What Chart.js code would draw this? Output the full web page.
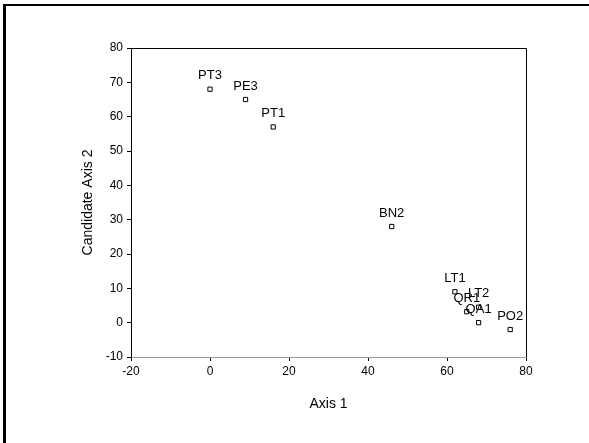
<!DOCTYPE html>
<html>
<head>
<meta charset="utf-8">
<script src="https://cdn.jsdelivr.net/npm/chart.js@4/dist/chart.umd.min.js"></script>
<style>
  html, body { margin: 0; padding: 0; background: #fff; }
  #wrap { position: relative; width: 589px; height: 443px; }
</style>
</head>
<body>
<div id="wrap"><canvas id="chart"></canvas></div>
<script>
// point names and coordinates
const names = ['PT3', 'PE3', 'PT1', 'BN2', 'LT1', 'LT2', 'QR1', 'QA1', 'PO2'];
const axis1 = [0, 9, 16, 46, 62, 68, 65, 68, 76];
const axis2 = [68, 65, 57, 28, 9, 4.5, 3.2, 0, -2];

const xTicks = [-20, 0, 20, 40, 60, 80];
const yTicks = [-10, 0, 10, 20, 30, 40, 50, 60, 70, 80];

const FONT = 'Liberation Sans, Arial, sans-serif';

// labels above each marker
const pointLabels = {
  id: 'pointLabels',
  afterDatasetsDraw(chart) {
    const ctx = chart.ctx;
    const meta = chart.getDatasetMeta(0);
    ctx.save();
    ctx.font = '13px ' + FONT;
    ctx.fillStyle = '#000';
    ctx.textAlign = 'center';
    ctx.textBaseline = 'alphabetic';
    meta.data.forEach((pt, i) => {
      ctx.fillText(names[i], pt.x, pt.y - 10);
    });
    ctx.restore();
  }
};

// plot frame and the outer page border
const frame = {
  id: 'frame',
  beforeDraw(chart) {
    const ctx = chart.ctx;
    ctx.save();
    ctx.fillStyle = '#000';
    ctx.fillRect(3, 4, 586, 2);
    ctx.fillRect(3, 4, 3, 439);
    ctx.restore();
  },
  afterDraw(chart) {
    const {left, top, right, bottom} = chart.chartArea;
    const ctx = chart.ctx;
    ctx.save();
    ctx.strokeStyle = '#000';
    ctx.lineWidth = 1;
    ctx.beginPath();
    ctx.moveTo(left + 0.5, bottom);
    ctx.lineTo(left + 0.5, top + 0.5);
    ctx.lineTo(right + 0.5, top + 0.5);
    ctx.lineTo(right + 0.5, bottom);
    ctx.stroke();
    ctx.restore();
  }
};

const points = axis1.map((x, i) => ({ x: x, y: axis2[i] }));

new Chart(document.getElementById('chart'), {
  type: 'scatter',
  data: {
    datasets: [{
      data: points,
      pointStyle: 'rect',
      pointRadius: 3,
      pointHoverRadius: 3,
      backgroundColor: '#fff',
      borderColor: '#000',
      borderWidth: 1
    }]
  },
  options: {
    responsive: true,
    maintainAspectRatio: false,
    animation: false,
    layout: { padding: { left: 70, top: 48, right: 63, bottom: 20 } },
    plugins: { legend: { display: false }, tooltip: { enabled: false } },
    scales: {
      x: {
        type: 'linear',
        min: -20, max: 80,
        afterBuildTicks: s => { s.ticks = xTicks.map(v => ({ value: v })); },
        afterFit: s => { s.height = 66; },
        grid: { drawOnChartArea: false, tickLength: 4, color: '#000' },
        border: { color: '#999', width: 1 },
        ticks: { color: '#000', font: { family: FONT, size: 12 }, padding: 3, maxRotation: 0 },
        title: { display: true, text: 'Axis 1', color: '#000', font: { family: FONT, size: 14 }, padding: { top: 0, bottom: 10 } }
      },
      y: {
        type: 'linear',
        min: -10, max: 80,
        afterBuildTicks: s => { s.ticks = yTicks.map(v => ({ value: v })); },
        afterFit: s => { s.width = 61; },
        grid: { drawOnChartArea: false, tickLength: 4, color: '#000' },
        border: { color: '#000', width: 1 },
        ticks: { color: '#000', font: { family: FONT, size: 12 }, padding: 4 },
        title: { display: true, text: 'Candidate Axis 2', color: '#000', font: { family: FONT, size: 14 }, padding: { top: 10, bottom: 0 } }
      }
    }
  },
  plugins: [frame, pointLabels]
});
</script>
</body>
</html>
